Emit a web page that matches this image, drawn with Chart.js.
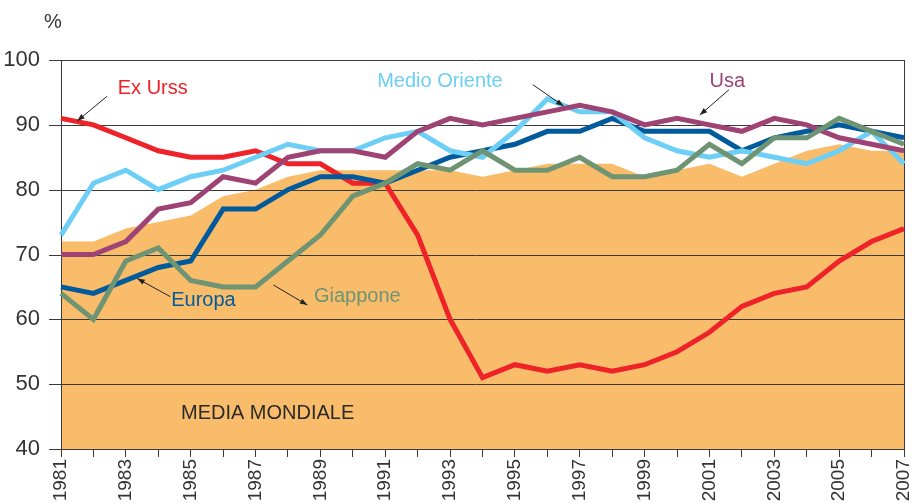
<!DOCTYPE html>
<html>
<head>
<meta charset="utf-8">
<script src="https://cdn.jsdelivr.net/npm/chart.js@4.4.0/dist/chart.umd.min.js"></script>
<style>
    html, body { margin: 0; padding: 0; background: #fff; }
    #wrap { width: 913px; height: 503px; position: relative; }
</style>
</head>
<body>
<div id="wrap"><canvas id="myChart"></canvas></div>
<script>
const FONT = "'Liberation Sans', Arial, sans-serif";

// anni
const years = [];
for (let y = 1981; y <= 2007; y++) years.push(String(y));

const yTicks = [40, 50, 60, 70, 80, 90, 100];

// serie (%)
const mediaMondiale = [72, 72, 74, 75, 76, 79, 80, 82, 83, 83, 83, 83, 83, 82, 83, 84, 84, 84, 82, 83, 84, 82, 84, 86, 87, 86, 86];
const exUrss       = [91, 90, 88, 86, 85, 85, 86, 84, 84, 81, 81, 73, 60, 51, 53, 52, 53, 52, 53, 55, 58, 62, 64, 65, 69, 72, 74];
const usa          = [70, 70, 72, 77, 78, 82, 81, 85, 86, 86, 85, 89, 91, 90, 91, 92, 93, 92, 90, 91, 90, 89, 91, 90, 88, 87, 86];
const medioOriente = [73, 81, 83, 80, 82, 83, 85, 87, 86, 86, 88, 89, 86, 85, 89, 94, 92, 92, 88, 86, 85, 86, 85, 84, 86, 89, 84];
const europa       = [65, 64, 66, 68, 69, 77, 77, 80, 82, 82, 81, 83, 85, 86, 87, 89, 89, 91, 89, 89, 89, 86, 88, 89, 90, 89, 88];
const giappone     = [64, 60, 69, 71, 66, 65, 65, 69, 73, 79, 81, 84, 83, 86, 83, 83, 85, 82, 82, 83, 87, 84, 88, 88, 91, 89, 87];

// etichette: testo, colore, posizione testo (anno, valore), freccia da -> a
const notes = [
    { text: 'Ex Urss', color: '#EE2229', at: [1982.75, 95.6], from: [1982.42, 94.4], to: [1981.5, 90.6] },
    { text: 'Medio Oriente', color: '#6DCFF6', at: [1990.75, 96.7], from: [1995.55, 96.2], to: [1996.5, 92.9] },
    { text: 'Usa', color: '#9E4374', at: [2001.0, 96.7], from: [2001.6, 95.4], to: [2000.7, 91.5] },
    { text: 'Europa', color: '#005A9C', at: [1984.4, 62.9], from: [1984.37, 63.5], to: [1983.35, 66.3] },
    { text: 'Giappone', color: '#6E9473', at: [1988.8, 63.5], from: [1987.55, 65.3], to: [1988.6, 62.2] },
    { text: 'MEDIA MONDIALE', color: '#2b2b2b', at: [1984.7, 45.5] }
];

// griglia sopra l'area ma sotto le linee
const gridPlugin = {
    id: 'gridOver',
    afterDatasetDraw(chart, args) {
        if (args.index !== 0) return;
        const { ctx, chartArea, scales } = chart;
        ctx.save();
        ctx.strokeStyle = '#3a3a3a';
        ctx.lineWidth = 1;
        yTicks.forEach(v => {
            const py = Math.round(scales.y.getPixelForValue(v)) + 0.5;
            ctx.beginPath();
            ctx.moveTo(chartArea.left - 12, py);
            ctx.lineTo(chartArea.right, py);
            ctx.stroke();
        });
        ctx.beginPath();
        ctx.moveTo(Math.round(chartArea.left) + 0.5, chartArea.top);
        ctx.lineTo(Math.round(chartArea.left) + 0.5, chartArea.bottom);
        ctx.moveTo(Math.round(chartArea.right) + 0.5, chartArea.top);
        ctx.lineTo(Math.round(chartArea.right) + 0.5, chartArea.bottom);
        ctx.stroke();
        ctx.restore();
    }
};

const notesPlugin = {
    id: 'notes',
    afterDraw(chart) {
        const { ctx, scales } = chart;
        const px = v => scales.x.getPixelForValue(v - 1981);
        const py = v => scales.y.getPixelForValue(v);
        ctx.save();
        ctx.font = '20px ' + FONT;
        ctx.fillStyle = '#333';
        ctx.textAlign = 'left';
        ctx.textBaseline = 'middle';
        ctx.fillText('%', 44, 22);
        notes.forEach(n => {
            ctx.fillStyle = n.color;
            ctx.textBaseline = 'middle';
            ctx.font = '20px ' + FONT;
            ctx.fillText(n.text, px(n.at[0]), py(n.at[1]));
            if (n.from) {
                const x1 = px(n.from[0]), y1 = py(n.from[1]);
                const x2 = px(n.to[0]), y2 = py(n.to[1]);
                const a = Math.atan2(y2 - y1, x2 - x1);
                ctx.strokeStyle = '#222';
                ctx.fillStyle = '#222';
                ctx.lineWidth = 1;
                ctx.beginPath();
                ctx.moveTo(x1, y1);
                ctx.lineTo(x2, y2);
                ctx.stroke();
                ctx.beginPath();
                ctx.moveTo(x2, y2);
                ctx.lineTo(x2 - 8 * Math.cos(a - 0.35), y2 - 8 * Math.sin(a - 0.35));
                ctx.lineTo(x2 - 8 * Math.cos(a + 0.35), y2 - 8 * Math.sin(a + 0.35));
                ctx.closePath();
                ctx.fill();
            }
        });
        ctx.restore();
    }
};

function line(label, data, color) {
    return {
        label: label,
        data: data,
        borderColor: color,
        backgroundColor: color,
        borderWidth: 5,
        pointRadius: 0,
        tension: 0,
        fill: false,
        borderJoinStyle: 'miter'
    };
}

const ctx = document.getElementById('myChart').getContext('2d');
const myChart = new Chart(ctx, {
    type: 'line',
    data: {
        labels: years,
        datasets: [{
            label: 'Media mondiale',
            data: mediaMondiale,
            borderWidth: 0,
            borderColor: 'rgba(0,0,0,0)',
            backgroundColor: '#F9BC6A',
            pointRadius: 0,
            fill: 'origin',
            order: 10
        },
            line('Giappone', giappone, '#6E9473'),
            line('Usa', usa, '#9E4374'),
            line('Medio Oriente', medioOriente, '#6DCFF6'),
            line('Europa', europa, '#005A9C'),
            line('Ex Urss', exUrss, '#EE2229')
        ]
    },
    options: {
        responsive: true,
        maintainAspectRatio: false,
        animation: false,
        layout: { padding: { top: 60, right: 9, left: 0, bottom: 0 } },
        plugins: {
            legend: { display: false },
            tooltip: { enabled: false }
        },
        scales: {
            x: {
                offset: false,
                grid: { display: true, drawOnChartArea: false, tickLength: 8, color: '#3a3a3a' },
                border: { color: '#3a3a3a' },
                ticks: {
                    autoSkip: false,
                    maxRotation: 90,
                    minRotation: 90,
                    color: '#333',
                    font: { family: FONT, size: 19 },
                    padding: 2,
                    callback: function(val, i) { return i % 2 === 0 ? years[i] : ''; }
                },
                afterFit: s => { s.height = 54; s.paddingLeft = 0; s.paddingRight = 0; }
            },
            y: {
                min: 40,
                max: 100,
                grid: { display: false },
                border: { display: false },
                ticks: {
                    stepSize: 10,
                    color: '#333',
                    font: { family: FONT, size: 22 },
                    padding: 13
                },
                afterFit: s => { s.width = 61; s.paddingTop = 0; s.paddingBottom = 0; }
            }
        }
    },
    plugins: [gridPlugin, notesPlugin]
});
</script>
</body>
</html>
